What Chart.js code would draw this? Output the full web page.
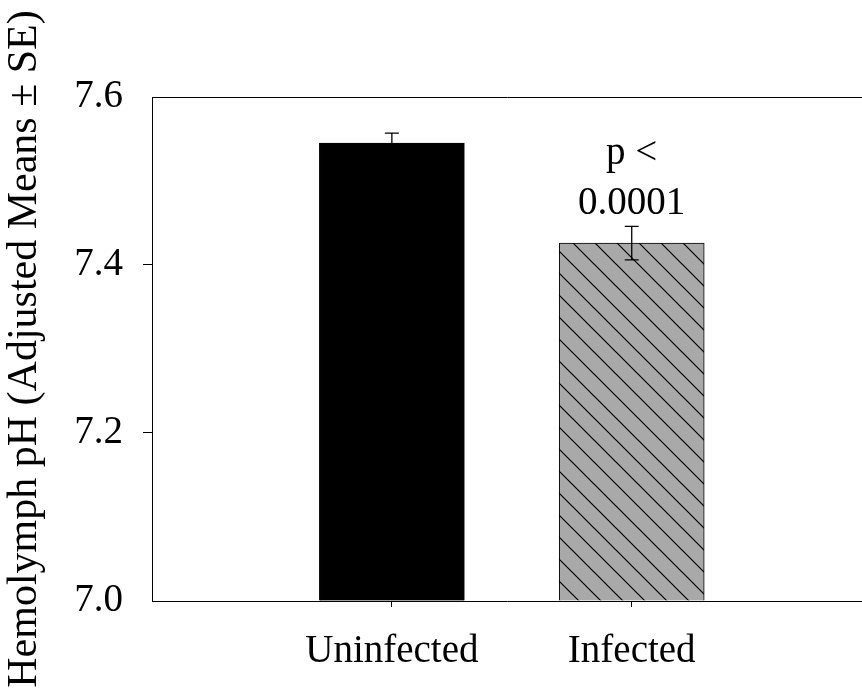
<!DOCTYPE html>
<html>
<head>
<meta charset="utf-8">
<script src="https://cdn.jsdelivr.net/npm/chart.js@4.4.1/dist/chart.umd.min.js"></script>
<style>
  html, body { margin: 0; padding: 0; background: #ffffff; }
  #wrap { width: 862px; height: 696px; }
</style>
</head>
<body>
<div id="wrap"><canvas id="phChart" width="862" height="696"></canvas></div>
<script>
// Hemolymph pH, adjusted means +/- SE

const categories = ['Uninfected', 'Infected'];
const means = [7.545, 7.426];
const stdErr = [0.012, 0.02];
const yTicks = [7.0, 7.2, 7.4, 7.6];
const pLabel = ['p <', '0.0001'];

const FONT = '"Liberation Serif", "Times New Roman", serif';

function makeHatch() {
    const size = 22;
    const c = document.createElement('canvas');
    c.width = size;
    c.height = size;
    const g = c.getContext('2d');
    g.fillStyle = '#a9a9a9';
    g.fillRect(0, 0, size, size);
    g.strokeStyle = '#000000';
    g.lineWidth = 1.2;
    g.beginPath();
    g.moveTo(-2, -2); g.lineTo(size + 2, size + 2);
    g.moveTo(-2, size - 2); g.lineTo(2, size + 2);
    g.moveTo(size - 2, -2); g.lineTo(size + 2, 2);
    g.stroke();
    return g.createPattern(c, 'repeat');
}

const ctx = document.getElementById('phChart').getContext('2d');
const hatch = makeHatch();

const points = categories.map((name, i) => ({ x: i + 1, y: means[i] }));

// error bars + p-value text
const extras = {
    id: 'extras',
    afterDatasetsDraw(chart) {
        const c = chart.ctx;
        const xs = chart.scales.x;
        const ys = chart.scales.y;
        c.save();
        c.strokeStyle = '#000000';
        c.lineWidth = 1.3;
        points.forEach((p, i) => {
            const px = xs.getPixelForValue(p.x);
            const top = ys.getPixelForValue(means[i] + stdErr[i]);
            const bot = ys.getPixelForValue(means[i] - stdErr[i]);
            c.beginPath();
            c.moveTo(px, top); c.lineTo(px, bot);
            c.moveTo(px - 7, top); c.lineTo(px + 7, top);
            c.moveTo(px - 7, bot); c.lineTo(px + 7, bot);
            c.stroke();
        });
        // p-value above the infected bar
        const px = xs.getPixelForValue(points[1].x);
        const topErr = ys.getPixelForValue(means[1] + stdErr[1]);
        c.fillStyle = '#000000';
        c.font = '39px ' + FONT;
        c.textAlign = 'center';
        c.textBaseline = 'alphabetic';
        c.fillText(pLabel[1], px, topErr - 12);
        c.fillText(pLabel[0], px, topErr - 62);
        c.restore();
    }
};

new Chart(ctx, {
    type: 'bar',
    data: {
        datasets: [{
            data: points,
            base: yTicks[0],
            backgroundColor: ['#000000', hatch],
            borderColor: '#000000',
            borderWidth: 1,
            barThickness: 145
        }]
    },
    options: {
        responsive: false,
        devicePixelRatio: 1,
        animation: false,
        layout: { padding: { top: 97, right: 0, bottom: 0, left: 0 } },
        plugins: {
            legend: { display: false },
            tooltip: { enabled: false }
        },
        scales: {
            x: {
                type: 'linear',
                min: 0,
                max: 2.96,
                offset: false,
                afterBuildTicks: scale => {
                    scale.ticks = categories.map((n, i) => ({ value: i + 1 }));
                },
                afterFit: scale => { scale.height = 95; },
                border: { display: true, color: '#000000', width: 1 },
                grid: {
                    offset: false,
                    drawOnChartArea: false,
                    drawTicks: true,
                    tickLength: 6,
                    tickColor: '#000000'
                },
                ticks: {
                    autoSkip: false,
                    maxRotation: 0,
                    padding: 21,
                    color: '#000000',
                    font: { family: FONT, size: 39 },
                    callback: v => categories[v - 1] || ''
                }
            },
            y: {
                min: yTicks[0],
                max: yTicks[yTicks.length - 1],
                afterBuildTicks: scale => {
                    scale.ticks = yTicks.map(v => ({ value: v }));
                },
                afterFit: scale => { scale.width = 152; },
                border: { display: true, color: '#000000', width: 1 },
                grid: {
                    drawOnChartArea: true,
                    drawTicks: true,
                    tickLength: 9,
                    color: c => (c.tick && c.tick.value === yTicks[yTicks.length - 1]) ? '#000000' : 'rgba(0,0,0,0)',
                    tickColor: c => (c.tick && c.tick.value > yTicks[0] && c.tick.value < yTicks[yTicks.length - 1]) ? '#000000' : 'rgba(0,0,0,0)'
                },
                ticks: {
                    padding: 20,
                    color: '#000000',
                    font: { family: FONT, size: 39 },
                    callback: v => v.toFixed(1)
                },
                title: {
                    display: true,
                    text: 'Hemolymph pH (Adjusted Means ± SE)',
                    color: '#000000',
                    font: { family: FONT, size: 42 },
                    padding: { top: 0, bottom: 0 }
                }
            }
        }
    },
    plugins: [extras]
});
</script>
</body>
</html>
